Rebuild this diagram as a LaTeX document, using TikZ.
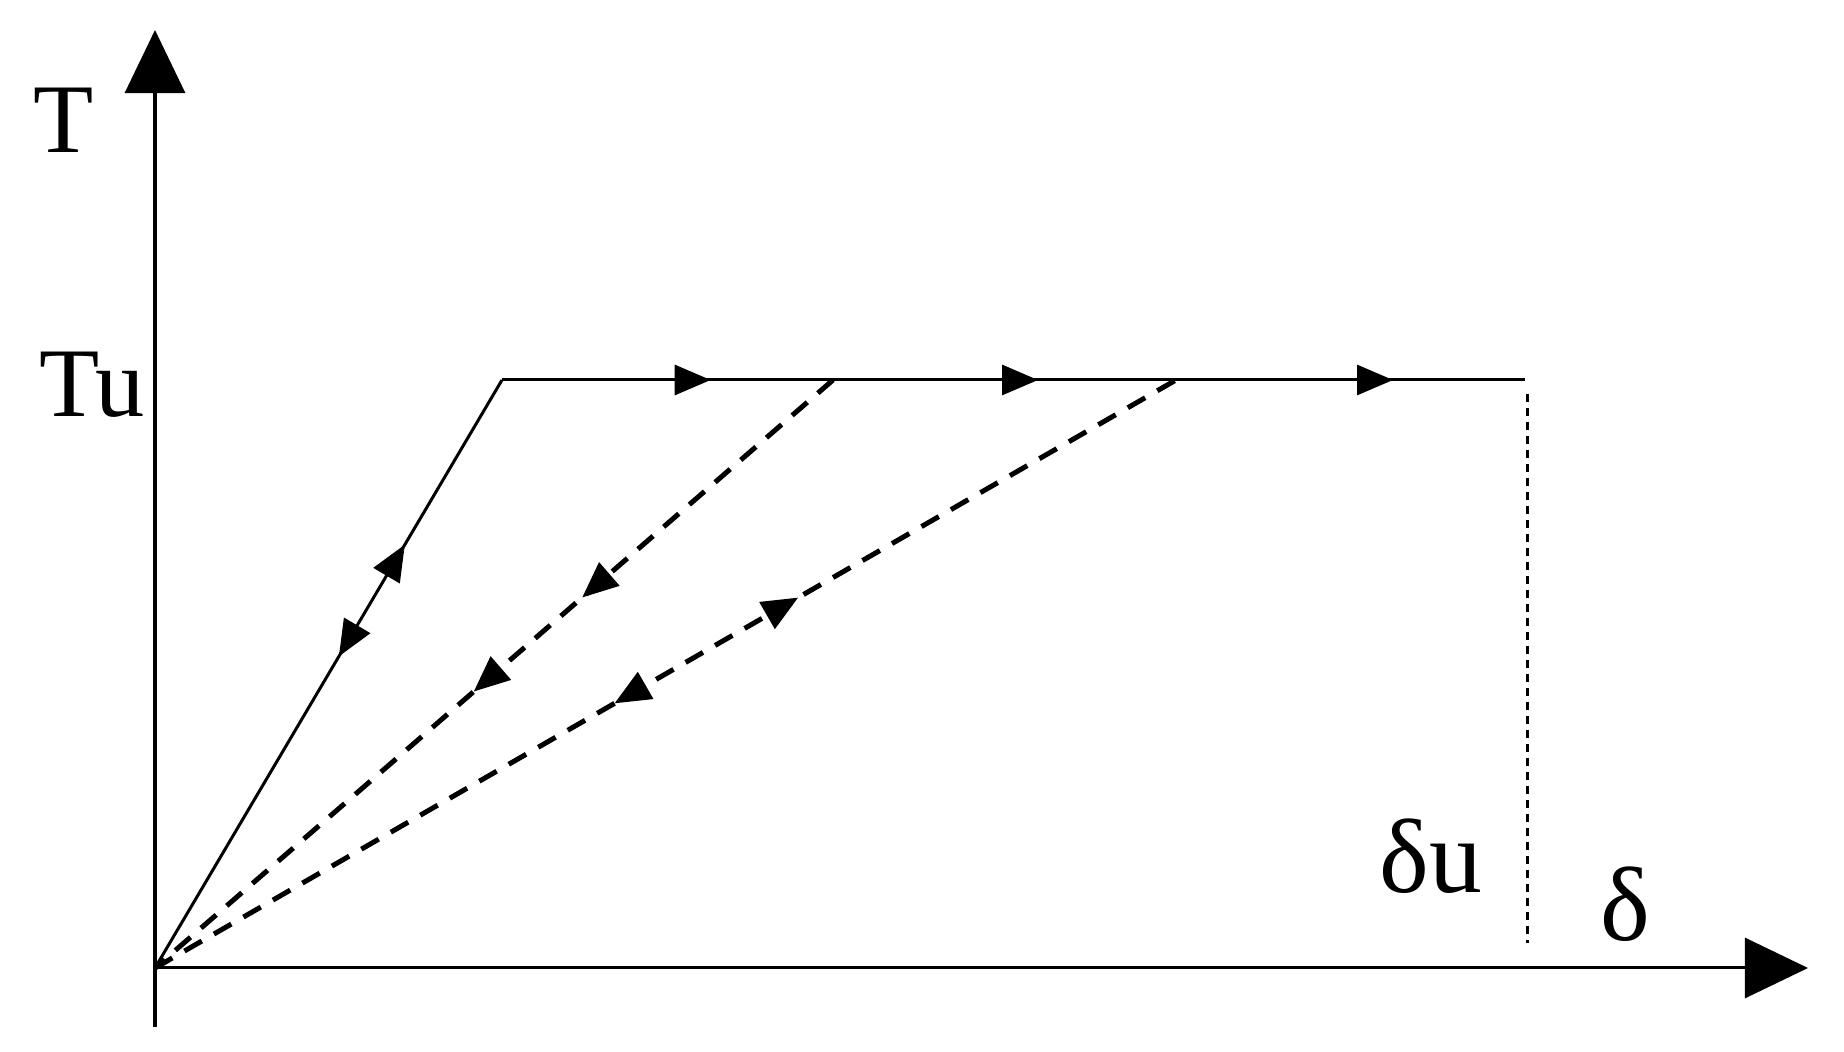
\documentclass[tikz,border=0pt]{standalone}
\usepackage{fontspec}
\setmainfont{Liberation Serif}
\usetikzlibrary{arrows.meta,decorations.markings}
\tikzset{
  axis/.style={line width=0.03cm,-{Triangle[length=0.63cm,width=0.6cm]}},
  curve/.style={line width=0.03cm},
  dashcurve/.style={line width=0.05cm,dash pattern=on 0.2cm off 0.14cm},
  guide/.style={line width=0.03cm,dash pattern=on 0.08cm off 0.06cm},
  lbl/.style={inner sep=0pt,anchor=base},
  midtip/.tip={Triangle[length=0.36cm,width=0.3cm]}
}
\begin{document}
\begin{tikzpicture}[x=0.01cm,y=-0.01cm]
\useasboundingbox (0,0) rectangle (1844,1052);
\coordinate (O) at (155,968);
\coordinate (Ytop) at (155,30);
\coordinate (Ybot) at (155,1027);
\coordinate (Xend) at (1808,968);
\coordinate (K) at (502,380);
\coordinate (P) at (1525,380);
\coordinate (D1) at (833,380);
\coordinate (D2) at (1176,380);
\coordinate (Vt) at (1527,394);
\coordinate (Vb) at (1527,943);
% axes
\draw[axis] (Ybot) -- (Ytop);
\draw[axis] (O) -- (Xend);
% labels
\node[lbl,font=\fontsize{28}{34}\selectfont] (T) at (64,153) {T};
\node[lbl,font=\fontsize{28}{34}\selectfont] (Tu) at (92,417) {Tu};
\node[lbl,font=\fontsize{30}{36}\selectfont] (du) at (1431,893) {δu};
\node[lbl,font=\fontsize{30}{36}\selectfont] (d) at (1625,941) {δ};
% elastic branch
\draw[curve,postaction={decorate},decoration={markings,
  mark=at position 0.72 with {\arrow{midtip}},
  mark=at position 0.53 with {\arrowreversed{midtip}}}] (O) -- (K);
% plateau
\draw[curve,postaction={decorate},decoration={markings,
  mark=at position 0.204 with {\arrow{midtip}},
  mark=at position 0.524 with {\arrow{midtip}},
  mark=at position 0.871 with {\arrow{midtip}}}] (K) -- (P);
% unloading/reloading 1
\draw[dashcurve,postaction={decorate},decoration={markings,
  mark=at position 0.37 with {\arrow{midtip}},
  mark=at position 0.53 with {\arrow{midtip}}}] (D1) -- (O);
% unloading/reloading 2
\draw[dashcurve,postaction={decorate},decoration={markings,
  mark=at position 0.63 with {\arrow{midtip}},
  mark=at position 0.45 with {\arrowreversed{midtip}}}] (O) -- (D2);
% ultimate displacement
\draw[guide] (Vt) -- (Vb);
\end{tikzpicture}
\end{document}
